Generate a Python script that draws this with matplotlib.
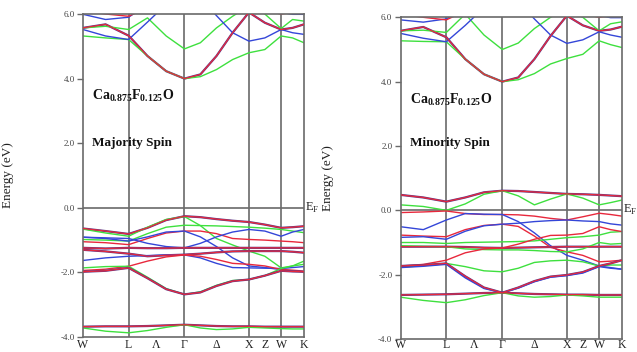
import numpy as np
import matplotlib.pyplot as plt

plt.rcParams['font.family'] = ['Liberation Serif', 'DejaVu Serif']
plt.rcParams['mathtext.fontset'] = 'custom'
plt.rcParams['mathtext.rm'] = 'Liberation Serif'
plt.rcParams['mathtext.bf'] = 'Liberation Serif:bold'

# k-path W-L-G-X-W-K in units of 2pi/a
kpts = [0.0, 0.35, 0.707, 1.0, 1.29, 1.573, 1.82, 2.07, 2.32, 2.573, 2.82, 3.073, 3.25, 3.427]
ksym = [0.0, 0.707, 1.573, 2.573, 3.073, 3.427]
klabel_pos = [0.0, 0.707, 1.14, 1.573, 2.073, 2.573, 2.823, 3.073, 3.427]
klabels = ['W', 'L', 'Λ', 'Γ', 'Δ', 'X', 'Z', 'W', 'K']

# majority spin bands (eV), one row per band at kpts
maj_bands = [
    # conduction
    [5.57, 5.68, 5.33, 4.70, 4.23, 4.00, 4.13, 4.70, 5.42, 6.05, 5.73, 5.52, 5.57, 5.68],
    [5.57, 5.62, 5.52, 5.88, 5.32, 4.92, 5.11, 5.57, 5.93, 6.25, 6.00, 5.55, 5.83, 5.78],
    [5.32, 5.26, 5.21, 4.70, 4.23, 4.00, 4.06, 4.28, 4.59, 4.80, 4.90, 5.32, 5.26, 5.11],
    [5.52, 5.32, 5.21, 5.75, 6.30, 6.60, 6.50, 5.95, 5.42, 5.16, 5.26, 5.52, 5.42, 5.37],
    [5.99, 5.83, 5.90, 6.30, 6.60, 6.70, 6.60, 6.50, 6.30, 6.20, 6.10, 6.05, 5.99, 5.99],
    [6.10, 6.00, 5.93, 6.20, 6.50, 6.80, 6.70, 6.50, 6.30, 6.20, 6.10, 6.00, 6.05, 6.10],
    # valence
    [-0.64, -0.72, -0.81, -0.62, -0.38, -0.26, -0.29, -0.35, -0.40, -0.44, -0.52, -0.62, -0.60, -0.57],
    [-0.66, -0.78, -0.88, -0.60, -0.36, -0.27, -0.55, -0.95, -1.15, -1.34, -1.50, -1.86, -1.80, -1.75],
    [-0.98, -1.00, -1.03, -0.80, -0.60, -0.54, -0.55, -0.56, -0.58, -0.60, -0.63, -0.67, -0.72, -0.77],
    [-1.05, -1.08, -1.14, -0.95, -0.78, -0.72, -0.72, -0.80, -0.95, -0.98, -1.00, -1.03, -1.05, -1.08],
    [-0.91, -0.95, -1.03, -0.90, -0.75, -0.72, -0.90, -1.20, -1.55, -1.80, -1.85, -1.91, -1.95, -1.98],
    [-0.91, -0.93, -0.95, -1.10, -1.20, -1.24, -1.10, -0.90, -0.75, -0.67, -0.72, -0.88, -0.75, -0.67],
    [-1.24, -1.26, -1.24, -1.25, -1.25, -1.24, -1.24, -1.24, -1.24, -1.24, -1.24, -1.24, -1.24, -1.24],
    [-1.30, -1.35, -1.42, -1.50, -1.47, -1.45, -1.42, -1.38, -1.35, -1.34, -1.34, -1.34, -1.36, -1.39],
    [-1.63, -1.55, -1.50, -1.48, -1.46, -1.46, -1.55, -1.72, -1.85, -1.86, -1.87, -1.88, -1.85, -1.82],
    [-1.94, -1.90, -1.81, -1.65, -1.52, -1.46, -1.50, -1.60, -1.72, -1.75, -1.80, -1.91, -1.93, -1.96],
    [-1.86, -1.82, -1.81, -2.15, -2.50, -2.68, -2.60, -2.40, -2.25, -2.22, -2.10, -1.88, -1.80, -1.65],
    [-1.98, -1.95, -1.86, -2.18, -2.52, -2.68, -2.62, -2.42, -2.27, -2.22, -2.10, -1.95, -1.97, -1.98],
    [-3.68, -3.67, -3.67, -3.66, -3.64, -3.62, -3.64, -3.66, -3.67, -3.67, -3.68, -3.68, -3.68, -3.68],
    [-3.72, -3.82, -3.87, -3.80, -3.70, -3.62, -3.72, -3.77, -3.75, -3.70, -3.72, -3.74, -3.75, -3.75],
]
maj_colors = ['m', 'g', 'g', 'b', 'b', 'r',
              'm', 'g', 'g', 'r', 'b', 'b', 'm', 'm', 'b', 'r', 'g', 'm', 'm', 'g']

# minority spin bands (eV)
min_bands = [
    # conduction
    [5.58, 5.70, 5.38, 4.70, 4.23, 4.00, 4.13, 4.70, 5.42, 6.05, 5.75, 5.58, 5.62, 5.71],
    [5.58, 5.60, 5.53, 6.10, 5.45, 5.00, 5.20, 5.65, 6.00, 6.25, 6.00, 5.58, 5.80, 5.86],
    [5.27, 5.25, 5.24, 4.70, 4.23, 4.00, 4.06, 4.25, 4.55, 4.72, 4.85, 5.27, 5.15, 5.06],
    [5.50, 5.35, 5.24, 5.75, 6.30, 6.60, 6.50, 5.95, 5.45, 5.19, 5.30, 5.55, 5.45, 5.38],
    [5.92, 5.85, 5.95, 6.30, 6.60, 6.70, 6.60, 6.50, 6.30, 6.20, 6.10, 6.05, 5.99, 5.99],
    [6.10, 6.00, 5.92, 6.20, 6.50, 6.80, 6.70, 6.50, 6.30, 6.20, 6.10, 6.00, 6.05, 6.10],
    # valence
    [0.48, 0.40, 0.27, 0.40, 0.56, 0.61, 0.60, 0.57, 0.54, 0.51, 0.50, 0.48, 0.46, 0.44],
    [0.17, 0.12, 0.00, 0.20, 0.50, 0.61, 0.45, 0.17, 0.35, 0.51, 0.38, 0.17, 0.24, 0.32],
    [-0.07, -0.05, -0.02, -0.10, -0.13, -0.13, -0.14, -0.18, -0.25, -0.30, -0.20, -0.09, -0.13, -0.18],
    [-0.51, -0.60, -0.30, -0.10, -0.12, -0.13, -0.35, -0.70, -1.10, -1.40, -1.55, -1.73, -1.78, -1.83],
    [-0.77, -0.80, -0.82, -0.60, -0.47, -0.43, -0.50, -0.80, -1.15, -1.29, -1.40, -1.60, -1.58, -1.55],
    [-0.84, -0.82, -0.90, -0.65, -0.48, -0.43, -0.40, -0.35, -0.32, -0.30, -0.33, -0.35, -0.42, -0.46],
    [-1.00, -1.00, -1.03, -1.00, -0.99, -0.98, -0.97, -0.95, -0.90, -0.85, -0.82, -0.77, -0.68, -0.66],
    [-1.13, -1.13, -1.13, -1.14, -1.16, -1.17, -1.16, -1.15, -1.14, -1.13, -1.13, -1.13, -1.13, -1.13],
    [-1.10, -1.12, -1.13, -1.20, -1.22, -1.23, -1.23, -1.25, -1.28, -1.29, -1.20, -1.00, -1.05, -1.03],
    [-1.73, -1.68, -1.55, -1.32, -1.20, -1.17, -1.05, -0.90, -0.78, -0.77, -0.72, -0.51, -0.60, -0.66],
    [-1.77, -1.72, -1.65, -1.75, -1.88, -1.91, -1.80, -1.62, -1.57, -1.55, -1.60, -1.73, -1.70, -1.70],
    [-1.73, -1.70, -1.65, -2.05, -2.40, -2.56, -2.40, -2.20, -2.06, -2.01, -1.92, -1.73, -1.65, -1.55],
    [-1.78, -1.74, -1.68, -2.10, -2.43, -2.56, -2.42, -2.22, -2.08, -2.03, -1.95, -1.75, -1.80, -1.83],
    [-2.63, -2.62, -2.61, -2.59, -2.57, -2.56, -2.58, -2.60, -2.61, -2.62, -2.62, -2.63, -2.63, -2.63],
    [-2.70, -2.80, -2.87, -2.78, -2.65, -2.56, -2.66, -2.70, -2.68, -2.63, -2.66, -2.70, -2.70, -2.70],
]
min_colors = ['m', 'g', 'g', 'b', 'b', 'r',
              'm', 'g', 'r', 'b', 'r', 'b', 'g', 'm', 'g', 'r', 'g', 'm', 'b', 'm', 'g']

RED, GREEN, BLUE = '#e8283c', '#3ee03e', '#3446d8'
GRID = '#6a6a6a'


def draw_bands(ax, bands, colors):
    for e, c in zip(bands, colors):
        if c == 'm':
            # overlapping channels: dark edge with red on top
            ax.plot(kpts, e, color='#5a3a8a', lw=1.6, zorder=2)
            ax.plot(kpts, e, color=RED, lw=0.9, zorder=3)
        else:
            col = {'r': RED, 'g': GREEN, 'b': BLUE}[c]
            ax.plot(kpts, e, color=col, lw=1.0, zorder=2)


def setup(ax, title, spin, text_e, klab_y):
    ax.set_xlim(ksym[0], ksym[-1])
    ax.set_ylim(-4, 6)
    for k in ksym[1:-1]:
        ax.axvline(k, color=GRID, lw=1.2, zorder=1)
    ax.axhline(0, color=GRID, lw=1.2, zorder=1)
    for s in ax.spines.values():
        s.set_color(GRID)
        s.set_linewidth(1.2)
    ax.set_yticks([-4, -2, 0, 2, 4, 6])
    ax.set_yticklabels(['-4.0', '-2.0', '0.0', '2.0', '4.0', '6.0'])
    ax.tick_params(axis='y', direction='out', length=4, width=1, color=GRID,
                   labelsize=6.5, labelcolor='#444', pad=2)
    ax.set_xticks([])
    for k, lab in zip(klabel_pos, klabels):
        ax.text(k, klab_y, lab, ha='center', va='center', fontsize=8.5,
                color='#222', clip_on=False,
                transform=ax.get_xaxis_transform())
    ax.set_ylabel('Energy (eV)', fontsize=9.5, color='#222')
    ax.text(0.14, text_e[0], title, fontsize=10, fontweight='bold',
            va='center', ha='left', color='#111')
    ax.text(0.14, text_e[1], spin, fontsize=9.5, fontweight='bold',
            va='center', ha='left', color='#111')
    ax.text(1.004, 0, r'E$_\mathregular{F}$', transform=ax.get_yaxis_transform(),
            fontsize=9, va='center', ha='left', color='#222', clip_on=False)


fig = plt.figure(figsize=(6.37, 3.52), dpi=100)
ax1 = fig.add_axes([0.1303, 0.0426, 0.3469, 0.9176])
ax2 = fig.add_axes([0.6290, 0.0369, 0.3475, 0.9139])

formula = r'$\mathbf{Ca_{0.875}F_{0.125}O}$'
draw_bands(ax1, maj_bands, maj_colors)
setup(ax1, formula, 'Majority Spin', (3.45, 2.02), -0.026)
ax1.yaxis.set_label_coords(-0.31, 0.5)

draw_bands(ax2, min_bands, min_colors)
setup(ax2, formula, 'Minority Spin', (3.43, 2.10), -0.02)
ax2.yaxis.set_label_coords(-0.30, 0.5)

fig.savefig('out.png', dpi=100)
